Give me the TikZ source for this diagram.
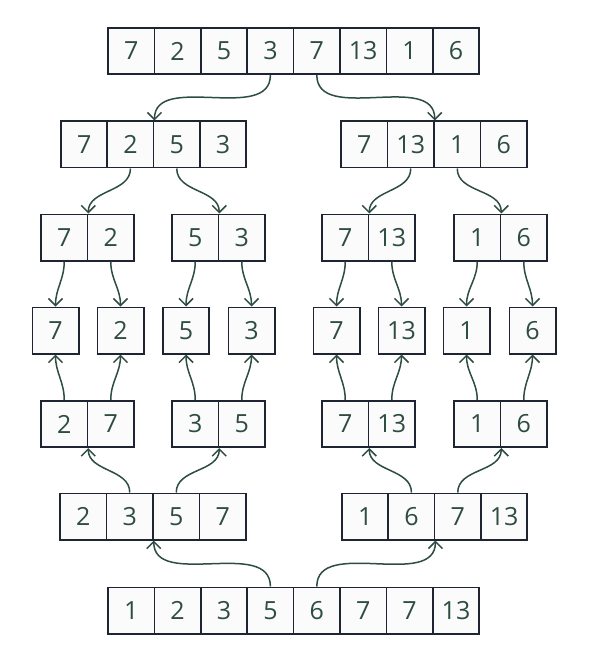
\documentclass[tikz,border=0pt]{standalone}
\usepackage{fontspec}
\setmainfont{Open Sans}
\usetikzlibrary{arrows.meta}
\definecolor{boxline}{HTML}{1F2433}
\definecolor{ink}{HTML}{2E4D42}
\definecolor{cellfill}{HTML}{FBFBFB}
\tikzset{
  cell/.style={draw=boxline, fill=cellfill, line width=1.6pt, minimum width=46.4pt, minimum height=46.4pt,
    inner sep=0pt, text=ink, font=\fontsize{25}{25}\selectfont, anchor=center},
  conn/.style={draw=ink, line width=1.5pt, -{Straight Barb[length=7pt,width=14pt,line width=1.5pt]}},
}
\begin{document}
\begin{tikzpicture}[x=1pt,y=-1pt]
\useasboundingbox (0,0) rectangle (594,655);
% row 1
\foreach \v [count=\i] in {7,2,5,3,7,13,1,6}
  \node[cell] (a\i) at ({108+46.4*(\i-0.5)},51) {\v};
% row 2
\foreach \v [count=\i] in {7,2,5,3}
  \node[cell] (b\i) at ({61+46.3*(\i-0.5)},144.5) {\v};
\foreach \v [count=\i] in {7,13,1,6}
  \node[cell] (c\i) at ({341+46.5*(\i-0.5)},144.5) {\v};
% row 3
\foreach \v [count=\i] in {7,2}
  \node[cell] (d\i) at ({41+46.5*(\i-0.5)},237.5) {\v};
\foreach \v [count=\i] in {5,3}
  \node[cell] (e\i) at ({172+46.5*(\i-0.5)},237.5) {\v};
\foreach \v [count=\i] in {7,13}
  \node[cell] (f\i) at ({322+46.5*(\i-0.5)},237.5) {\v};
\foreach \v [count=\i] in {1,6}
  \node[cell] (g\i) at ({454+46.5*(\i-0.5)},237.5) {\v};
% row 4 singles
\node[cell] (s1) at (55.5,330.5) {7};
\node[cell] (s2) at (120.5,330.5) {2};
\node[cell] (s3) at (186,330.5) {5};
\node[cell] (s4) at (251.5,330.5) {3};
\node[cell] (s5) at (336.5,330.5) {7};
\node[cell] (s6) at (401.5,330.5) {13};
\node[cell] (s7) at (466.5,330.5) {1};
\node[cell] (s8) at (532.5,330.5) {6};
% row 5
\foreach \v [count=\i] in {2,7}
  \node[cell] (h\i) at ({41+46.5*(\i-0.5)},424) {\v};
\foreach \v [count=\i] in {3,5}
  \node[cell] (k\i) at ({172+46.5*(\i-0.5)},424) {\v};
\foreach \v [count=\i] in {7,13}
  \node[cell] (p\i) at ({322+46.5*(\i-0.5)},424) {\v};
\foreach \v [count=\i] in {1,6}
  \node[cell] (q\i) at ({454+46.5*(\i-0.5)},424) {\v};
% row 6
\foreach \v [count=\i] in {2,3,5,7}
  \node[cell] (m\i) at ({60+46.5*(\i-0.5)},516.5) {\v};
\foreach \v [count=\i] in {1,6,7,13}
  \node[cell] (n\i) at ({342+46.3*(\i-0.5)},516.5) {\v};
% row 7
\foreach \v [count=\i] in {1,2,3,5,6,7,7,13}
  \node[cell] (z\i) at ({108+46.4*(\i-0.5)},610.5) {\v};

% split arrows
\draw[conn] (a4.south) to[out=-90,in=90] (b2.north east);
\draw[conn] (a5.south) to[out=-90,in=90] (c2.north east);
\draw[conn] (b2.south) to[out=-90,in=90] (d1.north east);
\draw[conn] (b3.south) to[out=-90,in=90] (e1.north east);
\draw[conn] (c2.south) to[out=-90,in=90] (f1.north east);
\draw[conn] (c3.south) to[out=-90,in=90] (g1.north east);
\draw[conn] (d1.south) to[out=-90,in=90] (s1.north);
\draw[conn] (d2.south) to[out=-90,in=90] (s2.north);
\draw[conn] (e1.south) to[out=-90,in=90] (s3.north);
\draw[conn] (e2.south) to[out=-90,in=90] (s4.north);
\draw[conn] (f1.south) to[out=-90,in=90] (s5.north);
\draw[conn] (f2.south) to[out=-90,in=90] (s6.north);
\draw[conn] (g1.south) to[out=-90,in=90] (s7.north);
\draw[conn] (g2.south) to[out=-90,in=90] (s8.north);
% merge arrows
\draw[conn] (h1.north) to[out=90,in=-90] (s1.south);
\draw[conn] (h2.north) to[out=90,in=-90] (s2.south);
\draw[conn] (k1.north) to[out=90,in=-90] (s3.south);
\draw[conn] (k2.north) to[out=90,in=-90] (s4.south);
\draw[conn] (p1.north) to[out=90,in=-90] (s5.south);
\draw[conn] (p2.north) to[out=90,in=-90] (s6.south);
\draw[conn] (q1.north) to[out=90,in=-90] (s7.south);
\draw[conn] (q2.north) to[out=90,in=-90] (s8.south);
\draw[conn] (m2.north) to[out=90,in=-90] (h1.south east);
\draw[conn] (m3.north) to[out=90,in=-90] (k1.south east);
\draw[conn] (n2.north) to[out=90,in=-90] (p1.south east);
\draw[conn] (n3.north) to[out=90,in=-90] (q1.south east);
\draw[conn] (z4.north) to[out=90,in=-90] (m2.south east);
\draw[conn] (z5.north) to[out=90,in=-90] (n2.south east);
\end{tikzpicture}
\end{document}
